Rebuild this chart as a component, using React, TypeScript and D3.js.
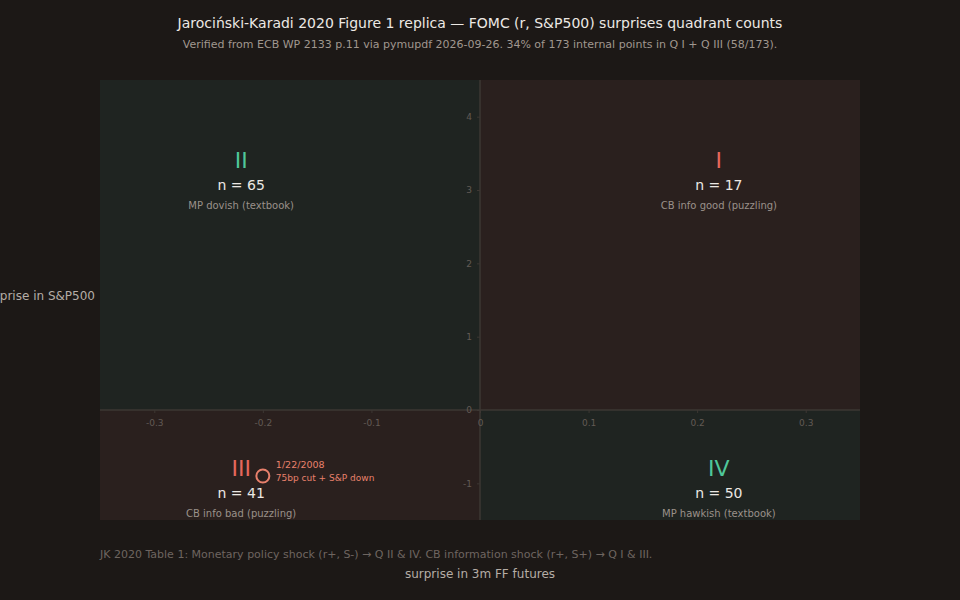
import { useEffect, useRef } from "react";
import * as d3 from "d3";

// quadrant summary (JK 2020 Figure 1)
const quadrantIds = ["I", "II", "III", "IV"];
const quadrantCounts = [17, 65, 41, 50];
const quadrantDesc = [
  "CB info good (puzzling)",
  "MP dovish (textbook)",
  "CB info bad (puzzling)",
  "MP hawkish (textbook)",
];
const quadrantX = [0.22, -0.22, -0.22, 0.22];
const quadrantY = [3.4, 3.4, -0.8, -0.8];
const quadrantKind = ["info", "mp", "info", "mp"];

const xTicks = [-0.3, -0.2, -0.1, 0, 0.1, 0.2, 0.3];
const yTicks = [-1, 0, 1, 2, 3, 4];

const highlightDate = ["1/22/2008"];
const highlightX = [-0.2];
const highlightY = [-0.9];
const highlightNote = ["75bp cut + S&P down"];

const W = 960;
const H = 600;
const margin = { top: 80, right: 100, bottom: 80, left: 100 };

const BG = "#1c1816";
const GREEN_BG = "#1f2421";
const RED_BG = "#2a201e";
const GREEN = "#4fc79a";
const RED = "#e5685c";
const FONT = "DejaVu Sans, sans-serif";

export default function App() {
  const svgRef = useRef<SVGSVGElement>(null);

  useEffect(() => {
    if (!svgRef.current) return;
    const svg = d3.select(svgRef.current);
    svg.selectAll("*").remove();

    const x = d3
      .scaleLinear()
      .domain([-0.35, 0.35])
      .range([margin.left, W - margin.right]);
    const y = d3
      .scaleLinear()
      .domain([-1.5, 4.5])
      .range([H - margin.bottom, margin.top]);

    svg.append("rect").attr("width", W).attr("height", H).attr("fill", BG);

    // quadrant backgrounds
    const [x0, x1] = x.domain();
    const [y0, y1] = y.domain();
    const quads = [
      { a: 0, b: x1, c: 0, d: y1, fill: RED_BG },
      { a: x0, b: 0, c: 0, d: y1, fill: GREEN_BG },
      { a: x0, b: 0, c: y0, d: 0, fill: RED_BG },
      { a: 0, b: x1, c: y0, d: 0, fill: GREEN_BG },
    ];
    svg
      .append("g")
      .selectAll("rect")
      .data(quads)
      .join("rect")
      .attr("x", (d) => x(d.a))
      .attr("y", (d) => y(d.d))
      .attr("width", (d) => x(d.b) - x(d.a))
      .attr("height", (d) => y(d.c) - y(d.d))
      .attr("fill", (d) => d.fill);

    // zero lines
    svg
      .append("line")
      .attr("x1", x(x0))
      .attr("x2", x(x1))
      .attr("y1", y(0))
      .attr("y2", y(0))
      .attr("stroke", "#3d3733")
      .attr("stroke-width", 1.5);
    svg
      .append("line")
      .attr("x1", x(0))
      .attr("x2", x(0))
      .attr("y1", y(y0))
      .attr("y2", y(y1))
      .attr("stroke", "#3d3733")
      .attr("stroke-width", 1.5);

    // axes through the origin
    const styleAxis = (g: d3.Selection<SVGGElement, unknown, null, undefined>) => {
      g.select(".domain").remove();
      g.selectAll(".tick line").attr("stroke", "#3d3733");
      g.selectAll(".tick text")
        .attr("fill", "#625a54")
        .attr("font-size", "9px")
        .attr("font-family", FONT);
    };

    svg
      .append("g")
      .attr("transform", `translate(0,${y(0)})`)
      .call(
        d3
          .axisBottom(x)
          .tickValues(xTicks)
          .tickSize(3)
          .tickPadding(7)
          .tickFormat((d) => String(+d)),
      )
      .call(styleAxis);

    svg
      .append("g")
      .attr("transform", `translate(${x(0)},0)`)
      .call(
        d3
          .axisLeft(y)
          .tickValues(yTicks)
          .tickSize(3)
          .tickPadding(5)
          .tickFormat((d) => String(d)),
      )
      .call(styleAxis);

    // quadrant labels
    const lab = svg.append("g").attr("font-family", FONT).attr("text-anchor", "middle");
    quadrantIds.forEach((id, i) => {
      const cx = x(quadrantX[i]);
      const cy = y(quadrantY[i]);
      lab
        .append("text")
        .attr("x", cx)
        .attr("y", cy + 7)
        .attr("font-size", 22)
        .attr("fill", quadrantKind[i] === "mp" ? GREEN : RED)
        .text(id);
      lab
        .append("text")
        .attr("x", cx)
        .attr("y", cy + 29)
        .attr("font-size", 14)
        .attr("fill", "#ece8e4")
        .text(`n = ${quadrantCounts[i]}`);
      lab
        .append("text")
        .attr("x", cx)
        .attr("y", cy + 48)
        .attr("font-size", 10)
        .attr("fill", "#9a918a")
        .text(quadrantDesc[i]);
    });

    // highlighted event
    highlightDate.forEach((date, i) => {
      const px = x(highlightX[i]);
      const py = y(highlightY[i]);
      svg
        .append("circle")
        .attr("cx", px)
        .attr("cy", py)
        .attr("r", 6.5)
        .attr("fill", "none")
        .attr("stroke", "#e8806c")
        .attr("stroke-width", 2);
      const t = svg
        .append("text")
        .attr("font-family", FONT)
        .attr("font-size", 9)
        .attr("fill", "#e8806c");
      t.append("tspan").attr("x", px + 13).attr("y", py - 8).attr("font-size", 9.5).text(date);
      t.append("tspan").attr("x", px + 13).attr("y", py + 5).text(highlightNote[i]);
    });

    // titles
    svg
      .append("text")
      .attr("x", W / 2)
      .attr("y", 28)
      .attr("text-anchor", "middle")
      .attr("font-family", FONT)
      .attr("font-size", 14)
      .attr("fill", "#ece8e4")
      .text("Jarociński-Karadi 2020 Figure 1 replica — FOMC (r, S&P500) surprises quadrant counts");
    svg
      .append("text")
      .attr("x", W / 2)
      .attr("y", 48)
      .attr("text-anchor", "middle")
      .attr("font-family", FONT)
      .attr("font-size", 11)
      .attr("fill", "#a0978f")
      .text(
        "Verified from ECB WP 2133 p.11 via pymupdf 2026-09-26. 34% of 173 internal points in Q I + Q III (58/173).",
      );

    // axis titles
    svg
      .append("text")
      .attr("x", W / 2)
      .attr("y", 578)
      .attr("text-anchor", "middle")
      .attr("font-family", FONT)
      .attr("font-size", 12)
      .attr("fill", "#b5ada6")
      .text("surprise in 3m FF futures");
    svg
      .append("text")
      .attr("x", 95)
      .attr("y", 300)
      .attr("text-anchor", "end")
      .attr("font-family", FONT)
      .attr("font-size", 12)
      .attr("fill", "#b5ada6")
      .text("surprise in S&P500");

    // footnote
    svg
      .append("text")
      .attr("x", margin.left)
      .attr("y", 558)
      .attr("font-family", FONT)
      .attr("font-size", 11)
      .attr("fill", "#6e6560")
      .text(
        "JK 2020 Table 1: Monetary policy shock (r+, S-) → Q II & IV. CB information shock (r+, S+) → Q I & III.",
      );
  }, []);

  return (
    <svg
      ref={svgRef}
      width={W}
      height={H}
      style={{ position: "absolute", left: 0, top: 0, display: "block" }}
    />
  );
}
